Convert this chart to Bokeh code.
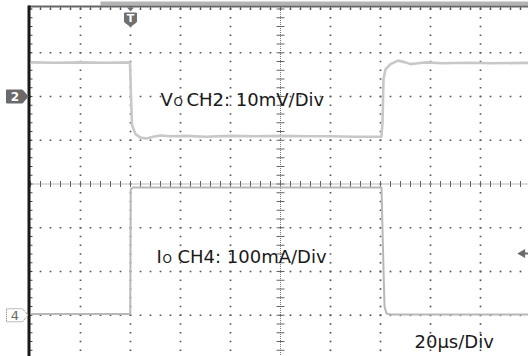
import numpy as np
from bokeh.plotting import figure
from bokeh.models import Range1d
from bokeh.embed import file_html
from bokeh.resources import INLINE
from bokeh.core.properties import value

# ---------------- data ----------------
time_per_div_us = 20
vo_mV_per_div = 10
io_mA_per_div = 100
ch2_offset_div = 2.0
ch4_offset_div = -3.0
trigger_time_us = 40
trigger_level_div = -1.59

# CH2: output voltage deviation (mV) vs time (us)
t_vo_us = [0, 10, 20, 30, 39.8, 40.2, 40.6, 42, 44, 46.5, 49, 52, 56, 62, 70, 80,
           90, 100, 110, 120, 130, 140.4, 140.8, 141.2, 142, 144, 147, 150, 152,
           155, 158, 165, 175, 185, 200]
vo_mV = [7.8, 7.7, 7.8, 7.7, 7.8, 0.0, -6.5, -8.6, -9.4, -9.6, -9.2, -8.9, -9.1,
         -9.0, -9.2, -9.0, -9.1, -9.0, -9.1, -9.1, -9.2, -9.2, -6.0, 4.0, 6.2,
         7.4, 8.2, 7.8, 7.4, 7.6, 7.8, 7.6, 7.7, 7.6, 7.7]

# CH4: output current (mA) vs time (us)
t_io_us = [0, 20, 39.9, 40.1, 41, 60, 100, 140.4, 141.0, 141.6, 142.4, 144, 170, 200]
io_mA = [3, 3, 3, 288, 292, 292, 292, 292, 150, 20, 4, 2, 2, 2]

vo_label = ("V", "O", "CH2: 10mV/Div")
io_label = ("I", "O", "CH4: 100mA/Div")
time_label = "20µs/Div"

# ---------------- layout ----------------
W, H = 528, 356
PX_PER_DIV_X = 50.0
PX_PER_DIV_Y = 43.75
X0_PX = 30.0          # screen left edge (t = 0)
YC_PX = 183.5         # vertical centre of the screen

x_start = (0 - X0_PX) / PX_PER_DIV_X * time_per_div_us
x_end = (W - X0_PX) / PX_PER_DIV_X * time_per_div_us
y_end = YC_PX / PX_PER_DIV_Y
y_start = (YC_PX - H) / PX_PER_DIV_Y


def X(px):
    return (px - X0_PX) / PX_PER_DIV_X * time_per_div_us


def Y(py):
    return (YC_PX - py) / PX_PER_DIV_Y


p = figure(width=W, height=H, x_range=Range1d(x_start, x_end),
           y_range=Range1d(y_start, y_end), output_backend="svg",
           toolbar_location=None, min_border=0, x_axis_type=None,
           y_axis_type=None)
p.outline_line_color = None
p.background_fill_color = "white"
p.border_fill_color = "white"

# ---------------- graticule ----------------
dot_col = "#555555"
minor_x = np.arange(0, 200.01, time_per_div_us / 5)
minor_y = np.arange(-4, 4.001, 0.2)

gx, gy = [], []
for k in range(1, 10):
    if k == 5:
        continue
    for yy in minor_y:
        gx.append(k * time_per_div_us)
        gy.append(yy)
for j in range(-4, 5):
    if j == 0:
        continue
    for xx in minor_x:
        gx.append(xx)
        gy.append(j)
p.scatter(gx, gy, marker="square", size=1.7, color=dot_col, line_color=None)

# centre cross
p.line([0, 200], [0, 0], line_color="#777777", line_width=1, line_dash="1 1")
p.line([100, 100], [-4, 4], line_color="#777777", line_width=1, line_dash="1 1")
tick_h = 3 / PX_PER_DIV_Y
p.segment(minor_x, [-tick_h] * len(minor_x), minor_x, [tick_h] * len(minor_x),
          line_color="#666666", line_width=1)
tick_w = 4 / PX_PER_DIV_X * time_per_div_us
p.segment([100 - tick_w] * len(minor_y), minor_y, [100 + tick_w] * len(minor_y),
          minor_y, line_color="#666666", line_width=1)

# left border with ticks
edge_w = 3 / PX_PER_DIV_X * time_per_div_us
p.segment([X(29)] * len(minor_y), minor_y, [X(29) + edge_w] * len(minor_y),
          minor_y, line_color="#444444", line_width=1)
# top border with ticks
p.segment(minor_x, [Y(6)] * len(minor_x), minor_x, [Y(9.5)] * len(minor_x),
          line_color="#555555", line_width=1)
p.quad(left=[X(100)], right=[X(W)], top=[Y(1)], bottom=[Y(5)],
       fill_color="#b4b4b4", line_color=None)
p.line([X(28), X(W)], [Y(6), Y(6)], line_color="#666666", line_width=2)
p.line([X(28.5), X(28.5)], [Y(5), Y(H)], line_color="#1a1a1a", line_width=3)

# ---------------- traces ----------------
vo_div = [ch2_offset_div + v / vo_mV_per_div for v in vo_mV]
io_div = [ch4_offset_div + i / io_mA_per_div for i in io_mA]
p.line(t_io_us, io_div, line_color="#b8b8b8", line_width=2)
p.line(t_vo_us, vo_div, line_color="#c8c8c8", line_width=2.6)

# ---------------- channel / trigger markers ----------------
def marker_shape(py):
    xs = [6, 22, 27.5, 22, 6]
    ys = [py - 6.5, py - 6.5, py, py + 6.5, py + 6.5]
    return [X(v) for v in xs], [Y(v) for v in ys]

py2 = YC_PX - ch2_offset_div * PX_PER_DIV_Y
mx, my = marker_shape(py2)
p.patch(mx, my, fill_color="#6a6a6a", line_color="#6a6a6a")
p.text([X(14.5)], [Y(py2)], text=["2"], text_color="white",
       text_font=value("DejaVu Sans"), text_font_size=value("12px"),
       text_font_style="bold", text_align="center", text_baseline="middle")

py4 = YC_PX - ch4_offset_div * PX_PER_DIV_Y
mx, my = marker_shape(py4)
p.patch(mx, my, fill_color="white", line_color="#777777", line_width=1,
        line_dash="1 1")
p.text([X(14.5)], [Y(py4)], text=["4"], text_color="#666666",
       text_font=value("DejaVu Sans"), text_font_size=value("13px"),
       text_align="center", text_baseline="middle")

# trigger position "T"
tx = X0_PX + trigger_time_us / time_per_div_us * PX_PER_DIV_X
sx = [tx - 6, tx + 6, tx + 6, tx, tx - 6]
sy = [12.5, 12.5, 21.5, 26, 21.5]
p.patch([X(v) for v in sx], [Y(v) for v in sy], fill_color="#707070",
        line_color="#707070")
p.patch([X(tx - 3.5), X(tx + 3.5), X(tx)], [Y(7), Y(7), Y(11)],
        fill_color="#707070", line_color=None)
p.text([X(tx)], [Y(18)], text=["T"], text_color="white",
       text_font=value("DejaVu Sans"), text_font_size=value("11px"),
       text_font_style="bold", text_align="center", text_baseline="middle")

# trigger level arrow
p.scatter([X(522)], [trigger_level_div], marker="triangle", angle=np.pi / 2,
          size=9, fill_color="#6a6a6a", line_color=None)
p.line([X(522), X(W)], [trigger_level_div, trigger_level_div],
       line_color="#6a6a6a", line_width=2)

# ---------------- labels ----------------
font = value("DejaVu Sans")
tc = "#1a1a1a"


def sub_label(parts, x_main, x_sub, x_rest, base_py):
    main, sub, rest = parts
    p.text([X(x_main)], [Y(base_py)], text=[main], text_font=font,
           text_font_size=value("18px"), text_color=tc,
           text_baseline="alphabetic")
    p.text([X(x_sub)], [Y(base_py + 2.5)], text=[sub], text_font=font,
           text_font_size=value("12px"), text_color=tc,
           text_baseline="alphabetic")
    p.text([X(x_rest)], [Y(base_py)], text=[rest], text_font=font,
           text_font_size=value("18px"), text_color=tc,
           text_baseline="alphabetic")


sub_label(vo_label, 160, 173, 186, 98.5)
sub_label(io_label, 156, 162, 177, 256)
p.text([X(414)], [Y(341)], text=[time_label], text_font=font,
       text_font_size=value("18px"), text_color=tc, text_baseline="alphabetic")

open("out.html", "w").write(file_html(p, INLINE))
